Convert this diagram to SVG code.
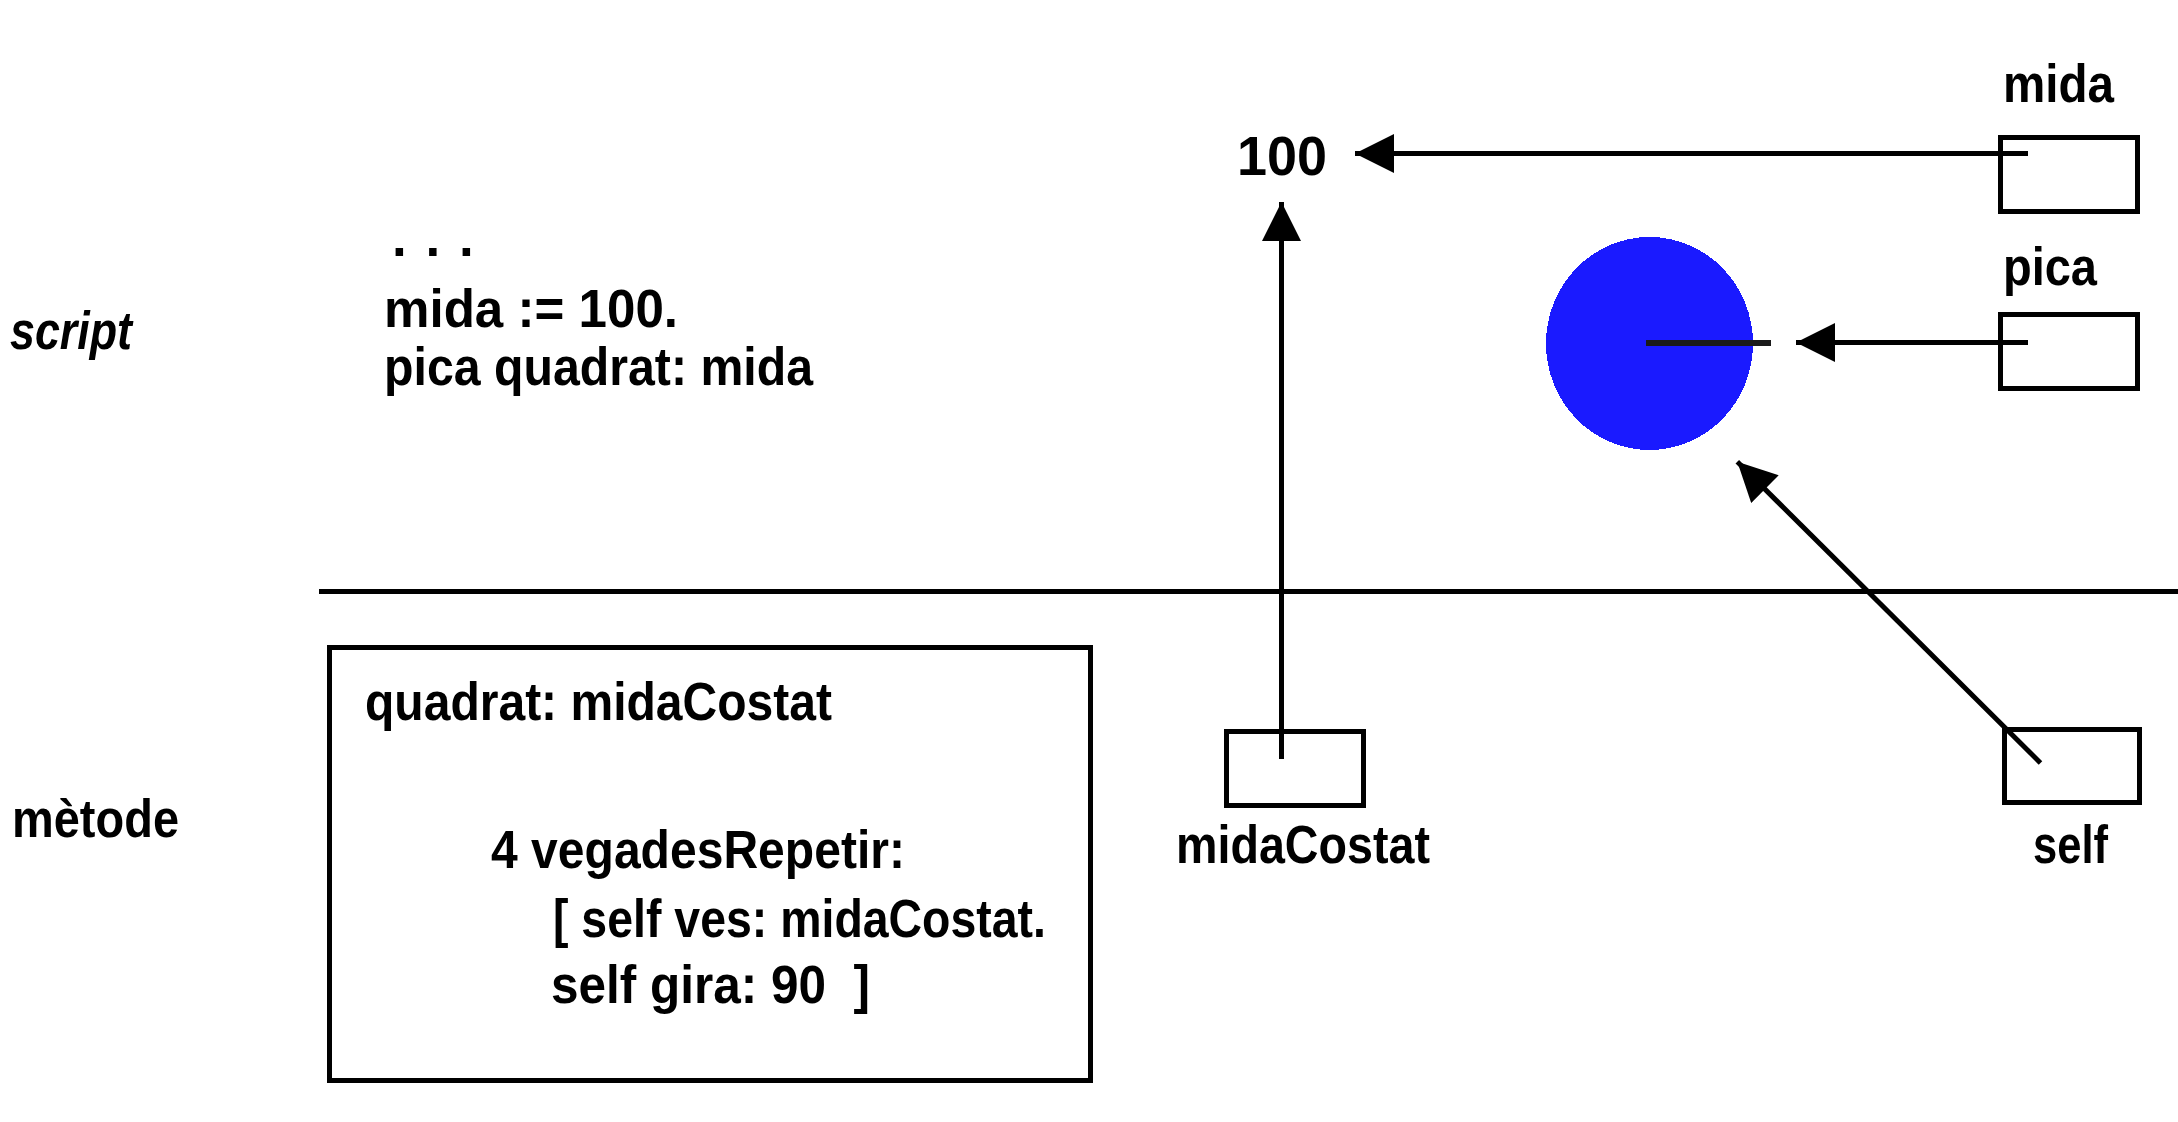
<svg xmlns="http://www.w3.org/2000/svg" width="2178" height="1122" viewBox="0 0 2178 1122">
<style>
  text { font-family: "Liberation Sans", Arial, sans-serif; font-size: 53px; font-weight: bold; fill: #000; white-space: pre; }
  text.it { font-style: italic; }
  text.num { font-size: 55px; }
  .box { fill: none; stroke: #000; stroke-width: 5; shape-rendering: crispEdges; }
  .conn { fill: none; stroke: #000; stroke-width: 5; stroke-linecap: butt; marker-end: url(#arrow); }
</style>
<defs>
  <marker id="arrow" markerUnits="userSpaceOnUse" markerWidth="40" markerHeight="40" refX="39" refY="19.5" orient="auto" viewBox="0 0 40 40">
    <path d="M0,0 L39,19.5 L0,39 Z" fill="#000"/>
  </marker>
</defs>
<rect width="2178" height="1122" fill="#fff"/>

<g id="section-labels">
  <text class="it" x="10" y="349" textLength="122" lengthAdjust="spacingAndGlyphs">script</text>
  <text x="12" y="837" textLength="167" lengthAdjust="spacingAndGlyphs">mètode</text>
</g>

<g id="divider">
  <line x1="319" y1="591.5" x2="2178" y2="591.5" stroke="#000" stroke-width="5" shape-rendering="crispEdges"/>
</g>

<g id="script-code">
  <text x="392" y="256" letter-spacing="2">. . .</text>
  <text x="384" y="327" textLength="294" lengthAdjust="spacingAndGlyphs">mida := 100.</text>
  <text x="384" y="385" textLength="429" lengthAdjust="spacingAndGlyphs">pica quadrat: mida</text>
</g>

<g id="method-box">
  <rect x="329.5" y="647.5" width="761" height="433" fill="none" stroke="#000" stroke-width="5" shape-rendering="crispEdges"/>
  <text x="365" y="720" textLength="467" lengthAdjust="spacingAndGlyphs">quadrat: midaCostat</text>
  <text x="491" y="868" textLength="414" lengthAdjust="spacingAndGlyphs">4 vegadesRepetir:</text>
  <text x="553" y="937" textLength="493" lengthAdjust="spacingAndGlyphs">[ self ves: midaCostat.</text>
  <text x="551" y="1003" textLength="319" lengthAdjust="spacingAndGlyphs">self gira: 90  ]</text>
</g>

<g id="value-100">
  <text class="num" x="1237" y="175" textLength="90" lengthAdjust="spacingAndGlyphs">100</text>
</g>

<g id="pica-object">
  <ellipse cx="1649.5" cy="343.5" rx="103.5" ry="106.5" fill="#1a1aff" shape-rendering="crispEdges"/>
  <line x1="1646" y1="343" x2="1771" y2="343" stroke="#1a1a1a" stroke-width="6" shape-rendering="crispEdges"/>
</g>

<g id="var-mida">
  <text x="2003" y="102" textLength="111" lengthAdjust="spacingAndGlyphs">mida</text>
  <rect class="box" x="2000.5" y="137.5" width="137" height="74"/>
</g>

<g id="var-pica">
  <text x="2003" y="285" textLength="94" lengthAdjust="spacingAndGlyphs">pica</text>
  <rect class="box" x="2000.5" y="314.5" width="137" height="74"/>
</g>

<g id="var-midaCostat">
  <rect class="box" x="1226.5" y="731.5" width="137" height="74"/>
  <text x="1176" y="863" textLength="254" lengthAdjust="spacingAndGlyphs">midaCostat</text>
</g>

<g id="var-self">
  <rect class="box" x="2004.5" y="729.5" width="135" height="73"/>
  <text x="2033" y="863" textLength="75" lengthAdjust="spacingAndGlyphs">self</text>
</g>

<g id="connectors">
  <line class="conn" x1="2028" y1="153.5" x2="1355" y2="153.5"/>
  <line class="conn" x1="2028" y1="342.5" x2="1796" y2="342.5"/>
  <line class="conn" x1="1281.5" y1="759" x2="1281.5" y2="202"/>
  <line class="conn" x1="2040.5" y1="763" x2="1737.3" y2="461.7"/>
</g>
</svg>
